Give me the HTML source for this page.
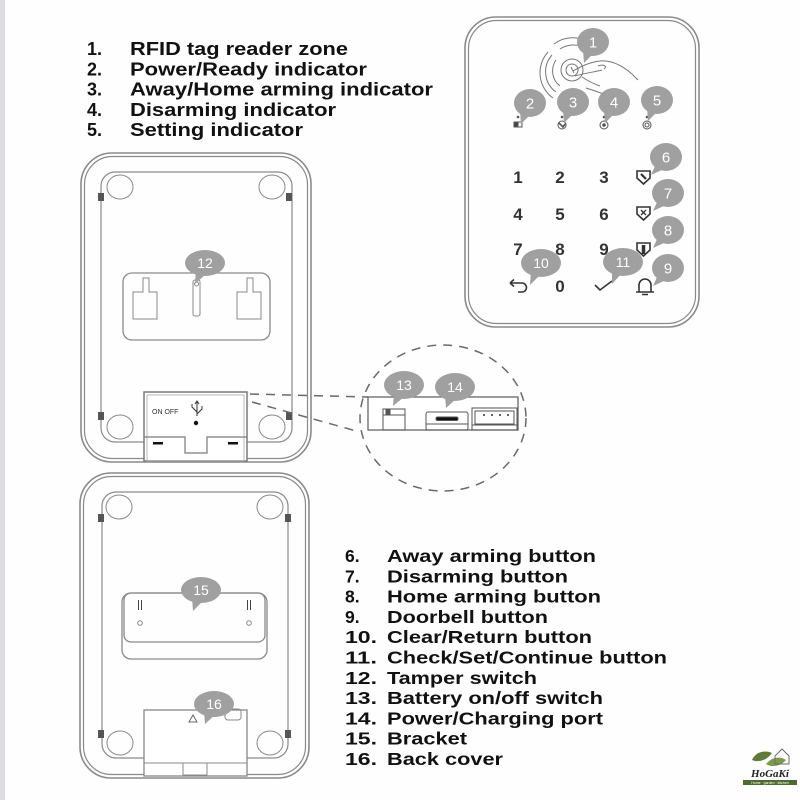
<!DOCTYPE html>
<html><head><meta charset="utf-8"><style>
html,body{margin:0;padding:0;background:#fff;}
svg{display:block;}
</style></head><body>
<svg width="800" height="800" viewBox="0 0 800 800" xmlns="http://www.w3.org/2000/svg">
<rect x="0" y="0" width="800" height="800" fill="#fefefe"/>
<rect x="0" y="0" width="5" height="800" fill="#dcdde1"/>

<!-- Top list -->
<g font-family="Liberation Sans, Arial, sans-serif" font-weight="bold" font-size="18" fill="#111">
<text x="87" y="55">1.</text><text x="130" y="55" textLength="218" lengthAdjust="spacingAndGlyphs">RFID tag reader zone</text>
<text x="87" y="75.5">2.</text><text x="130" y="75.5" textLength="237" lengthAdjust="spacingAndGlyphs">Power/Ready indicator</text>
<text x="87" y="95.5">3.</text><text x="130" y="95.5" textLength="303" lengthAdjust="spacingAndGlyphs">Away/Home arming indicator</text>
<text x="87" y="116">4.</text><text x="130" y="116" textLength="206" lengthAdjust="spacingAndGlyphs">Disarming indicator</text>
<text x="87" y="136">5.</text><text x="130" y="136" textLength="173" lengthAdjust="spacingAndGlyphs">Setting indicator</text>
</g>

<!-- Bottom list -->
<g font-family="Liberation Sans, Arial, sans-serif" font-weight="bold" font-size="17.5" fill="#111">
<text x="345" y="562">6.</text><text x="387" y="562" textLength="209" lengthAdjust="spacingAndGlyphs">Away arming button</text>
<text x="345" y="582.3">7.</text><text x="387" y="582.3" textLength="181" lengthAdjust="spacingAndGlyphs">Disarming button</text>
<text x="345" y="602.6">8.</text><text x="387" y="602.6" textLength="214" lengthAdjust="spacingAndGlyphs">Home arming button</text>
<text x="345" y="622.9">9.</text><text x="387" y="622.9" textLength="161" lengthAdjust="spacingAndGlyphs">Doorbell button</text>
<text x="345" y="643.2" textLength="32" lengthAdjust="spacingAndGlyphs">10.</text><text x="387" y="643.2" textLength="205" lengthAdjust="spacingAndGlyphs">Clear/Return button</text>
<text x="345" y="663.5" textLength="32" lengthAdjust="spacingAndGlyphs">11.</text><text x="387" y="663.5" textLength="280" lengthAdjust="spacingAndGlyphs">Check/Set/Continue button</text>
<text x="345" y="683.8" textLength="32" lengthAdjust="spacingAndGlyphs">12.</text><text x="387" y="683.8" textLength="150" lengthAdjust="spacingAndGlyphs">Tamper switch</text>
<text x="345" y="704.1" textLength="32" lengthAdjust="spacingAndGlyphs">13.</text><text x="387" y="704.1" textLength="216" lengthAdjust="spacingAndGlyphs">Battery on/off switch</text>
<text x="345" y="724.4" textLength="32" lengthAdjust="spacingAndGlyphs">14.</text><text x="387" y="724.4" textLength="216" lengthAdjust="spacingAndGlyphs">Power/Charging port</text>
<text x="345" y="744.7" textLength="32" lengthAdjust="spacingAndGlyphs">15.</text><text x="387" y="744.7" textLength="80" lengthAdjust="spacingAndGlyphs">Bracket</text>
<text x="345" y="765" textLength="32" lengthAdjust="spacingAndGlyphs">16.</text><text x="387" y="765" textLength="116" lengthAdjust="spacingAndGlyphs">Back cover</text>
</g>

<!-- Keypad front -->
<g fill="none" stroke="#8a8a8a">
<rect x="465" y="17" width="234" height="310" rx="31" stroke-width="1.6"/>
<rect x="468.5" y="20.5" width="227" height="303" rx="28" stroke-width="1.2"/>
</g>
<!-- RFID graphic -->
<g fill="none" stroke="#777" stroke-width="1">
<circle cx="572" cy="70" r="6"/>
<circle cx="572" cy="70" r="11"/>
<path d="M556,60 A19,19 0 0 0 560,86"/>
<path d="M552,55 A25,25 0 0 0 556,92"/>
<path d="M548,52 A31,31 0 0 0 553,98"/>
<path d="M560,49 A24,24 0 0 1 585,48"/>
<path d="M554,44 A31,31 0 0 1 590,43"/>
<path d="M573,71 C582,66 590,62 600,61 C612,60 625,66 638,80"/>
<path d="M575,76 C585,73 595,72 602,70"/>
<path d="M598,66 C603,64 608,66 604,69"/>
<path d="M582,77 C588,81 594,84 600,86"/>
<path d="M586,88 C592,90 600,92 605,95"/>
<path d="M571,67 L574,73"/>
</g>
<!-- LEDs -->
<g fill="none" stroke="#555" stroke-width="1">
<circle cx="518" cy="117" r="0.8" fill="#555"/>
<rect x="514" y="122" width="8" height="5"/><rect x="514" y="122" width="4" height="5" fill="#444"/>
<circle cx="562" cy="117" r="0.8" fill="#555"/>
<circle cx="562" cy="125" r="4"/><path d="M559,123 L563,127 L565,124" stroke-width="1.6"/>
<circle cx="604" cy="117" r="0.8" fill="#555"/>
<circle cx="604" cy="125" r="4"/><circle cx="604" cy="125" r="1.3" fill="#555"/>
<circle cx="647" cy="117" r="0.8" fill="#555"/>
<circle cx="647" cy="125" r="4"/><circle cx="647" cy="125" r="2"/>
</g>
<!-- Digits -->
<g font-family="Liberation Sans, Arial, sans-serif" font-weight="bold" font-size="17" fill="#333" text-anchor="middle">
<text x="518" y="183">1</text><text x="560" y="183">2</text><text x="604" y="183">3</text>
<text x="518" y="220">4</text><text x="560" y="220">5</text><text x="604" y="220">6</text>
<text x="518" y="255">7</text><text x="560" y="255">8</text><text x="604" y="255">9</text>
<text x="560" y="292">0</text>
</g>
<g fill="none" stroke="#333" stroke-width="1.6">
<path d="M637,171 h13 v7 l-6.5,6 l-6.5,-6 z"/><path d="M641,174 l5,5" stroke-width="2.2"/>
<path d="M637,207 h13 v7 l-6.5,6 l-6.5,-6 z"/><path d="M641,210 l5,5 M646,210 l-5,5" stroke-width="1.3"/>
<path d="M637,243 h13 v7 l-6.5,6 l-6.5,-6 z"/><path d="M643.5,245 v9" stroke-width="3.5"/>
<path d="M636,292 h18 M639,292 v-7 a6,6 0 0 1 12,0 v7 M642,294.5 h6" stroke-width="1.6"/>
<path d="M510,283 h12 a4.5,4.5 0 0 1 0,9 h-4"/><path d="M510,283 l4,-3.5 M510,283 l4,3.5"/>
<path d="M595,285 l5,5 l12,-9"/>
</g>

<!-- Device 1 back -->
<g fill="none" stroke="#8a8a8a">
<rect x="81" y="153" width="230" height="309" rx="31" stroke-width="1.6"/>
<rect x="84.5" y="156.5" width="223" height="302" rx="28" stroke-width="1.2"/>
<rect x="101" y="172" width="191" height="270" rx="14" stroke-width="1.2"/>
<ellipse cx="120" cy="187" rx="13" ry="12"/><ellipse cx="272" cy="187" rx="13" ry="12"/>
<ellipse cx="120" cy="427" rx="13" ry="12"/><ellipse cx="272" cy="427" rx="13" ry="12"/>
<rect x="123" y="273" width="147" height="67" rx="9" stroke-width="1.3"/>
<path d="M143,278 h6 v14 h8 v27 h-24 v-27 h10 z"/>
<path d="M247,278 h6 v14 h8 v27 h-24 v-27 h10 z"/>
<rect x="193" y="280" width="7" height="36" rx="2"/>
<circle cx="196.5" cy="284" r="2"/>
</g>
<g fill="#555">
<rect x="98" y="193" width="6" height="8"/><rect x="286" y="193" width="6" height="8"/>
<rect x="98" y="412" width="6" height="8"/><rect x="286" y="412" width="6" height="8"/>
</g>
<!-- compartment -->
<rect x="144" y="392" width="103" height="69" fill="#fff" stroke="#7a7a7a" stroke-width="1.5"/>
<rect x="147" y="395" width="97" height="66" fill="none" stroke="#aaa" stroke-width="0.8"/>
<path d="M144,437 H185 V453 H207 V437 H247" fill="none" stroke="#7a7a7a" stroke-width="1.2"/>
<rect x="153" y="442" width="10" height="2.5" fill="#111"/><rect x="228" y="442" width="10" height="2.5" fill="#111"/>
<text x="152" y="414" font-family="Liberation Sans, Arial, sans-serif" font-size="7" fill="#333">ON  OFF</text>
<g fill="none" stroke="#333" stroke-width="1">
<path d="M197,402 v14 M197,412 l-5,-5 v-3 M197,414 l5,-5 v-3 M195,404 l2,-3 l2,3"/>
</g>
<circle cx="196" cy="423" r="2.2" fill="#111"/>

<!-- dashed zoom -->
<g fill="none" stroke="#6a6a6a" stroke-width="1.5" stroke-dasharray="9 7">
<path d="M250,394 L368,397"/>
<path d="M252,402 L360,432"/>
<ellipse cx="443" cy="418" rx="83" ry="73"/>
</g>
<rect x="368" y="397" width="150" height="33" fill="#fff" stroke="#666" stroke-width="1.3"/>
<g fill="none" stroke="#555" stroke-width="1">
<rect x="383" y="409" width="22" height="21"/>
<path d="M383,415 h22"/>
<rect x="386" y="410" width="4" height="5" fill="#555"/>
<rect x="426" y="412" width="42" height="18" rx="2"/>
<path d="M426,424 h42"/>
<rect x="436" y="417" width="22" height="3.5" rx="1.5" fill="#111"/>
<rect x="472" y="408" width="45" height="22"/>
<rect x="475" y="411" width="39" height="13"/>
<path d="M472,425 h45"/>
<circle cx="484" cy="415" r="0.6" fill="#555"/><circle cx="492" cy="415" r="0.6" fill="#555"/><circle cx="500" cy="415" r="0.6" fill="#555"/><circle cx="508" cy="415" r="0.6" fill="#555"/>
</g>

<!-- Device 2 back -->
<g fill="none" stroke="#8a8a8a">
<rect x="80" y="473" width="229" height="305" rx="31" stroke-width="1.6"/>
<rect x="83.5" y="476.5" width="222" height="298" rx="28" stroke-width="1.2"/>
<rect x="102" y="492" width="186" height="266" rx="14" stroke-width="1.2"/>
<ellipse cx="119" cy="507" rx="13" ry="12"/><ellipse cx="270" cy="507" rx="13" ry="12"/>
<ellipse cx="120" cy="743" rx="13" ry="12"/><ellipse cx="270" cy="743" rx="13" ry="12"/>
<rect x="122" y="593" width="145" height="66" rx="9" stroke-width="1.3"/>
<rect x="124" y="593" width="141" height="49" rx="7" stroke-width="1.3"/>
<circle cx="140" cy="623" r="2.3"/><circle cx="249" cy="623" r="2.3"/>
</g>
<g stroke="#444" stroke-width="1">
<path d="M138.5,600 v10 M141.5,600 v10 M247.5,600 v10 M250.5,600 v10"/>
</g>
<g fill="#555">
<rect x="98" y="514" width="6" height="8"/><rect x="285" y="514" width="6" height="8"/>
<rect x="98" y="730" width="6" height="8"/><rect x="285" y="730" width="6" height="8"/>
</g>
<rect x="144" y="710" width="103" height="66" fill="#fff" stroke="#888" stroke-width="1.3"/>
<g fill="none" stroke="#888" stroke-width="1">
<path d="M144,763 H247"/>
<rect x="183" y="763" width="24" height="12"/>
<path d="M193,715 l4,7 h-8 z" stroke="#666"/>
<rect x="225" y="709" width="16" height="11" rx="3"/>
</g>

<!-- Bubbles -->
<g fill="#a0a0a0">
<ellipse cx="593" cy="42" rx="16" ry="14"/><polygon points="583,50 593,54 584,63"/>
<ellipse cx="530" cy="103" rx="16" ry="14"/><polygon points="520,111 530,115 521,124"/>
<ellipse cx="573" cy="102" rx="16" ry="14"/><polygon points="563,110 573,114 564,123"/>
<ellipse cx="614" cy="102" rx="16" ry="14"/><polygon points="604,110 614,114 605,123"/>
<ellipse cx="657" cy="100" rx="16" ry="14"/><polygon points="647,108 657,112 648,121"/>
<ellipse cx="666" cy="157" rx="16" ry="14"/><polygon points="656,164 664,169 651,175"/>
<ellipse cx="668" cy="193" rx="16" ry="14"/><polygon points="658,200 666,205 653,211"/>
<ellipse cx="668" cy="230" rx="16" ry="14"/><polygon points="658,237 666,242 653,248"/>
<ellipse cx="668" cy="268" rx="16" ry="14"/><polygon points="658,275 666,280 653,286"/>
<ellipse cx="541" cy="263" rx="20" ry="14"/><polygon points="531,270 541,274 530,285"/>
<ellipse cx="623" cy="262" rx="20" ry="14"/><polygon points="612,269 622,273 612,284"/>
<ellipse cx="205" cy="263" rx="20" ry="13"/><polygon points="196,270 206,274 195,284"/>
<ellipse cx="404" cy="385" rx="20" ry="14"/><polygon points="394,393 404,397 393,406"/>
<ellipse cx="455" cy="387" rx="20" ry="14"/><polygon points="445,395 456,399 446,408"/>
<ellipse cx="201" cy="590" rx="20" ry="13"/><polygon points="192,597 203,601 193,611"/>
<ellipse cx="214" cy="704" rx="20" ry="13"/><polygon points="204,711 215,715 205,724"/>
</g>
<g font-family="Liberation Sans, Arial, sans-serif" font-size="15" fill="#fff" text-anchor="middle">
<text x="593" y="47.5">1</text>
<text x="530" y="108.5">2</text>
<text x="573" y="107.5">3</text>
<text x="614" y="107.5">4</text>
<text x="657" y="105.5">5</text>
<text x="666" y="162.5">6</text>
<text x="668" y="198.5">7</text>
<text x="668" y="235.5">8</text>
<text x="668" y="273.5">9</text>
</g>
<g font-family="Liberation Sans, Arial, sans-serif" font-size="14" fill="#fff" text-anchor="middle">
<text x="541" y="268">10</text>
<text x="623" y="267">11</text>
<text x="205" y="268">12</text>
<text x="404" y="390">13</text>
<text x="455" y="392">14</text>
<text x="201" y="595">15</text>
<text x="214" y="709">16</text>
</g>

<!-- Logo -->
<g>
<path d="M752,760 C756,751 766,750 772,753 C767,760 759,763 752,760 Z" fill="#5f7a3a"/>
<path d="M766,764 C772,757 780,756 786,760 C781,766 772,768 766,764 Z" fill="#7d9a4a"/>
<path d="M775,756 L782,749 L789,756 L789,764 L775,764 Z" fill="none" stroke="#6b6b6b" stroke-width="1"/>
<text x="770" y="777" font-family="Liberation Serif, serif" font-weight="bold" font-style="italic" font-size="11" fill="#222" text-anchor="middle">HoGaKi</text>
<rect x="743" y="780" width="54" height="5" fill="#4d6b2e"/>
<text x="770" y="784" font-family="Liberation Sans, sans-serif" font-size="3.5" fill="#fff" text-anchor="middle">Home · garden · kitchen</text>
</g>
</svg>
</body></html>
